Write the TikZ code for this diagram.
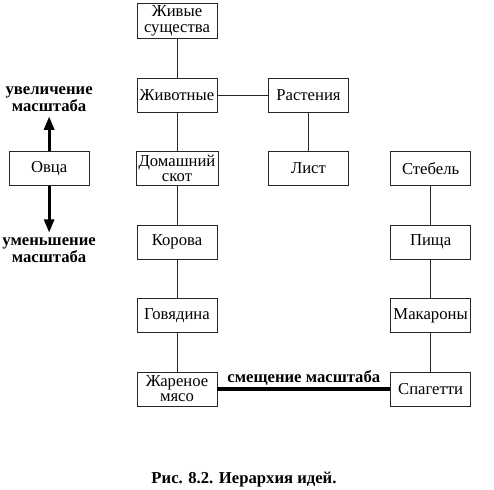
\documentclass[tikz,border=0pt]{standalone}
\usepackage{fontspec}
\setmainfont{Liberation Serif}
\usetikzlibrary{arrows.meta,positioning}

\begin{document}
\begin{tikzpicture}[
    node distance=29pt and 38pt,
    box/.style={draw=black!85, line width=0.6pt, minimum width=60pt, minimum height=25.5pt, inner sep=2pt, align=center, font=\fontsize{12.5}{11.5}\selectfont},
    link/.style={draw=black!85, line width=0.7pt},
    arrow/.style={-{Triangle[length=10pt, width=7.5pt]}, line width=2.2pt},
    scaleline/.style={line width=2.6pt},
    scalelabel/.style={align=center, font=\bfseries\fontsize{12.5}{10}\selectfont}
]
\useasboundingbox (0,0) rectangle (370.5pt,-367.5pt);
% left column
\node[box] (living) at (132.75pt,-15.75pt) {Живые\\существа};
\node[box, below=of living] (animals) {Животные};
\node[box, below=of animals] (cattle) {Домашний\\скот};
\node[box, below=of cattle] (cow) {Корова};
\node[box, below=of cow] (beef) {Говядина};
\node[box, below=of beef] (roast) {Жареное\\мясо};
% right columns
\node[box, right=of animals] (plants) {Растения};
\node[box] (leaf) at (plants |- cattle) {Лист};
\node[box, right=31pt of leaf] (stem) {Стебель};
\node[box] (food) at (stem |- cow) {Пища};
\node[box] (pasta) at (stem |- beef) {Макароны};
\node[box] (spaghetti) at (stem |- roast) {Спагетти};
% scale
\node[box, left=34.5pt of cattle] (sheep) {Овца};
\node[scalelabel, above=26pt of sheep] (zoomin) {увеличение\\масштаба};
\node[scalelabel, below=35pt of sheep] (zoomout) {уменьшение\\масштаба};
\node[font=\bfseries\fontsize{12.5}{13}\selectfont] (caption) at (183pt,-359.5pt) {Рис. 8.2. Иерархия идей.};

\draw[link] (living) -- (animals);
\draw[link] (animals) -- (cattle);
\draw[link] (cattle) -- (cow);
\draw[link] (cow) -- (beef);
\draw[link] (beef) -- (roast);
\draw[link] (animals) -- (plants);
\draw[link] (plants) -- (leaf);
\draw[link] (stem) -- (food);
\draw[link] (food) -- (pasta);
\draw[link] (pasta) -- (spaghetti);
\draw[arrow] (sheep) -- (zoomin);
\draw[arrow] (sheep) -- (zoomout);
\draw[scaleline] (roast) -- node[scalelabel, above, inner sep=1.5pt] {смещение масштаба} (spaghetti);
\end{tikzpicture}
\end{document}
